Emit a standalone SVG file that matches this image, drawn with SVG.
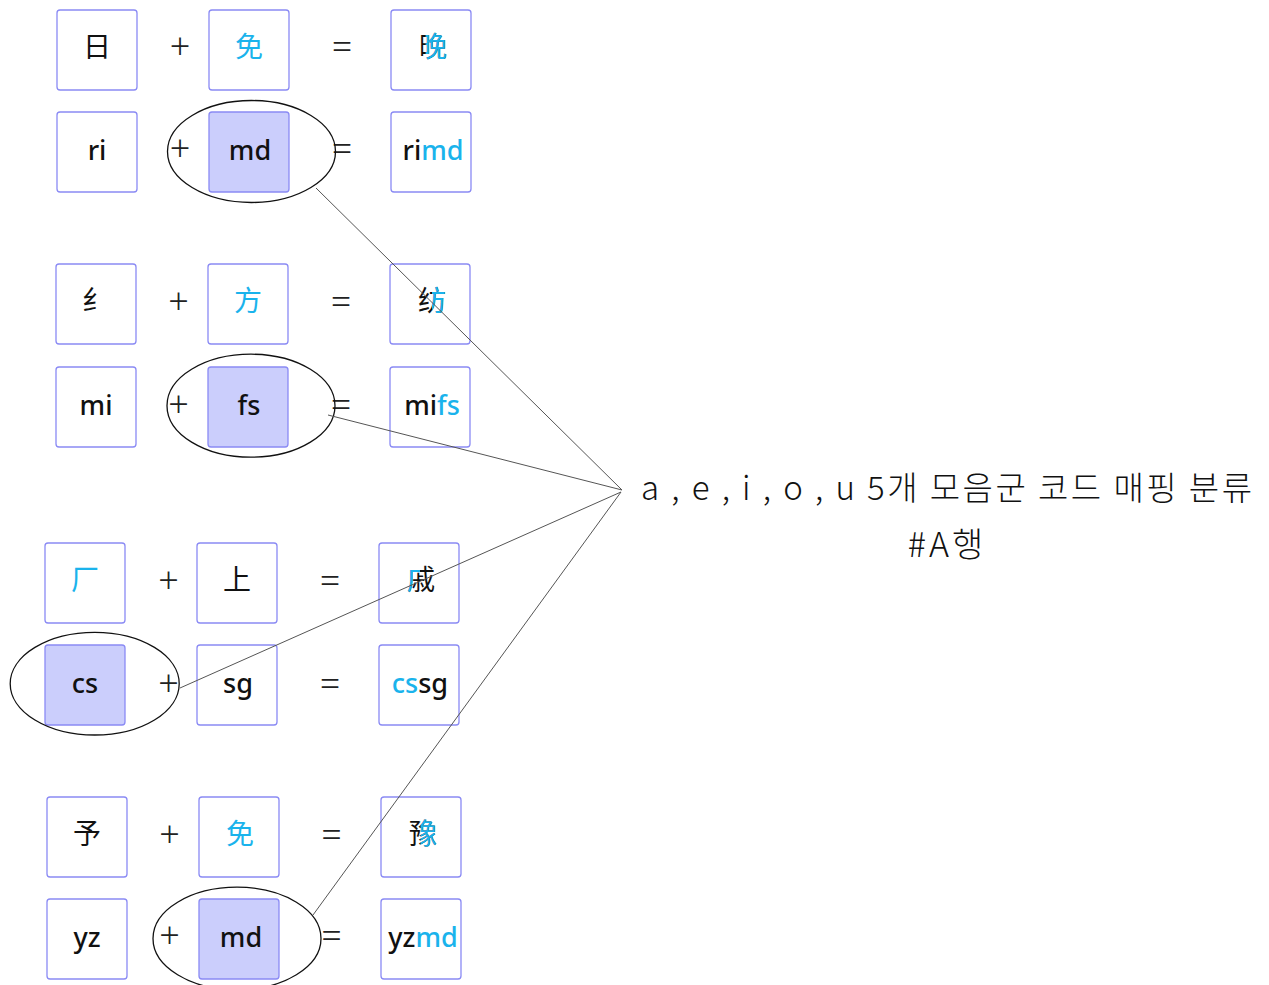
<svg xmlns="http://www.w3.org/2000/svg" width="1269" height="985" viewBox="0 0 1269 985">
<style>
.box{fill:#ffffff;stroke:#8a8af4;stroke-width:1.3}
.hl{fill:#cbcefc;stroke:#8a8af4;stroke-width:1.3}
.t{font-family:"Noto Sans","Noto Sans CJK SC",sans-serif;font-size:27px;font-weight:500;text-anchor:middle;fill:#111}
.cj{font-family:"Noto Sans CJK SC",sans-serif;font-size:28px;font-weight:400}
.b{fill:#1ab3ec}
.op{font-family:"Noto Sans",sans-serif;font-size:36px;font-weight:300;text-anchor:middle;fill:#222}
.ell{fill:none;stroke:#111;stroke-width:1.3}
.conn line{stroke:#555;stroke-width:1}
.lbl{font-family:"Noto Sans CJK KR",sans-serif;font-size:33px;font-weight:300;fill:#111}
</style>
<defs>
<clipPath id="cWan"><rect x="425.6" y="10" width="60" height="80"/></clipPath>
<clipPath id="cFang"><rect x="432" y="264" width="60" height="80"/></clipPath>
<clipPath id="cQi"><rect x="379" y="543" width="34" height="80"/><rect x="379" y="543" width="41" height="30"/></clipPath>
<clipPath id="cYu"><rect x="420.5" y="797" width="60" height="80"/></clipPath>
</defs>

<!-- Group 1 -->
<g id="g1">
<g id="g1-ri-char"><rect class="box" x="57" y="10" width="80" height="80" rx="3"/><text class="t cj" x="97" y="57">日</text></g>
<text class="op" x="180" y="59">+</text>
<g id="g1-mian"><rect class="box" x="209" y="10" width="80" height="80" rx="3"/><text class="t cj b" x="249" y="57">免</text></g>
<text class="op" x="342" y="59">=</text>
<g id="g1-wan"><rect class="box" x="391" y="10" width="80" height="80" rx="3"/><text class="t cj" x="433" y="57">晚</text><text class="t cj b" x="433" y="57" clip-path="url(#cWan)">晚</text></g>
<g id="g1-ri"><rect class="box" x="57" y="112" width="80" height="80" rx="3"/><text class="t" x="97" y="160">ri</text></g>
<text class="op" x="180" y="161">+</text>
<g id="g1-md"><rect class="hl" x="209" y="112" width="80" height="80" rx="3"/><text class="t" x="250" y="160">md</text></g>
<text class="op" x="342" y="161">=</text>
<g id="g1-rimd"><rect class="box" x="391" y="112" width="80" height="80" rx="3"/><text class="t" x="433" y="160">ri<tspan class="b">md</tspan></text></g>
<ellipse id="g1-ellipse" class="ell" cx="251.5" cy="151.5" rx="84" ry="51"/>
</g>

<!-- Group 2 -->
<g id="g2">
<g id="g2-si"><rect class="box" x="56" y="264" width="80" height="80" rx="3"/><text class="t cj" x="96" y="311">纟</text></g>
<text class="op" x="178.5" y="314">+</text>
<g id="g2-fang"><rect class="box" x="208" y="264" width="80" height="80" rx="3"/><text class="t cj b" x="248" y="311">方</text></g>
<text class="op" x="341" y="314">=</text>
<g id="g2-fangc"><rect class="box" x="390" y="264" width="80" height="80" rx="3"/><text class="t cj" x="432" y="311">纺</text><text class="t cj b" x="432" y="311" clip-path="url(#cFang)">纺</text></g>
<g id="g2-mi"><rect class="box" x="56" y="367" width="80" height="80" rx="3"/><text class="t" x="96" y="415">mi</text></g>
<text class="op" x="178.5" y="417">+</text>
<g id="g2-fs"><rect class="hl" x="208" y="367" width="80" height="80" rx="3"/><text class="t" x="249" y="415">fs</text></g>
<text class="op" x="341" y="417">=</text>
<g id="g2-mifs"><rect class="box" x="390" y="367" width="80" height="80" rx="3"/><text class="t" x="432" y="415">mi<tspan class="b">fs</tspan></text></g>
<ellipse id="g2-ellipse" class="ell" cx="251" cy="405.7" rx="84" ry="51.5"/>
</g>

<!-- Group 3 -->
<g id="g3">
<g id="g3-han"><rect class="box" x="45" y="543" width="80" height="80" rx="3"/><text class="t cj b" x="85" y="590">厂</text></g>
<text class="op" x="168.5" y="593">+</text>
<g id="g3-shang"><rect class="box" x="197" y="543" width="80" height="80" rx="3"/><text class="t cj" x="237" y="590">上</text></g>
<text class="op" x="330" y="593">=</text>
<g id="g3-qi"><rect class="box" x="379" y="543" width="80" height="80" rx="3"/><text class="t cj" x="421" y="590">戚</text><text class="t cj b" x="421" y="590" clip-path="url(#cQi)">戚</text></g>
<g id="g3-cs"><rect class="hl" x="45" y="645" width="80" height="80" rx="3"/><text class="t" x="85" y="693">cs</text></g>
<text class="op" x="168.5" y="696">+</text>
<g id="g3-sg"><rect class="box" x="197" y="645" width="80" height="80" rx="3"/><text class="t" x="238" y="693">sg</text></g>
<text class="op" x="330" y="696">=</text>
<g id="g3-cssg"><rect class="box" x="379" y="645" width="80" height="80" rx="3"/><text class="t" x="420" y="693"><tspan class="b">cs</tspan>sg</text></g>
<ellipse id="g3-ellipse" class="ell" cx="94.7" cy="683.7" rx="84.5" ry="51.3"/>
</g>

<!-- Group 4 -->
<g id="g4">
<g id="g4-yu"><rect class="box" x="47" y="797" width="80" height="80" rx="3"/><text class="t cj" x="87" y="844">予</text></g>
<text class="op" x="169.5" y="847">+</text>
<g id="g4-mian"><rect class="box" x="199" y="797" width="80" height="80" rx="3"/><text class="t cj b" x="240" y="844">免</text></g>
<text class="op" x="331.5" y="847">=</text>
<g id="g4-yuc"><rect class="box" x="381" y="797" width="80" height="80" rx="3"/><text class="t cj" x="423" y="844">豫</text><text class="t cj b" x="423" y="844" clip-path="url(#cYu)">豫</text></g>
<g id="g4-yz"><rect class="box" x="47" y="899" width="80" height="80" rx="3"/><text class="t" x="87" y="947">yz</text></g>
<text class="op" x="169.5" y="948">+</text>
<g id="g4-md"><rect class="hl" x="199" y="899" width="80" height="80" rx="3"/><text class="t" x="241" y="947">md</text></g>
<text class="op" x="331.5" y="948">=</text>
<g id="g4-yzmd"><rect class="box" x="381" y="899" width="80" height="80" rx="3"/><text class="t" x="423" y="947">yz<tspan class="b">md</tspan></text></g>
<ellipse id="g4-ellipse" class="ell" cx="237" cy="938.5" rx="84" ry="51.3"/>
</g>

<g id="connectors" class="conn">
<line x1="316" y1="188" x2="622" y2="490"/>
<line x1="328" y1="415" x2="622" y2="490"/>
<line x1="180" y1="688" x2="621" y2="492"/>
<line x1="313" y1="915" x2="621" y2="492"/>
</g>

<g id="label">
<text class="lbl" x="641" y="500" textLength="611" lengthAdjust="spacing">a , e , i , o , u 5개 모음군 코드 매핑 분류</text>
<text class="lbl" x="947" y="557" text-anchor="middle" style="font-size:34px;letter-spacing:3px">#A행</text>
</g>
</svg>
